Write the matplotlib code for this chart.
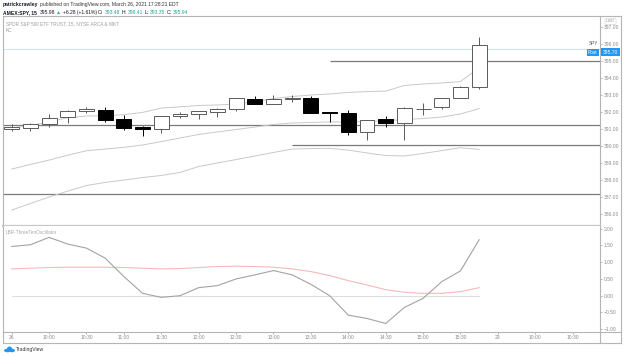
import matplotlib
matplotlib.use('Agg')
import matplotlib.pyplot as plt
from matplotlib.patches import Rectangle, Ellipse
from matplotlib.lines import Line2D

plt.rcParams['font.family'] = ['Liberation Sans', 'DejaVu Sans']

W, H = 624, 357

# 15 min bars of SPY, 26 Mar 2021, 9:30 .. 15:45
opens = [390.98, 391.08, 391.30, 391.69, 392.06, 392.11, 391.57, 391.10, 391.00, 391.75,
         391.87, 392.02, 392.16, 392.77, 392.49, 392.78, 392.81, 392.02, 391.96, 390.84,
         391.57, 391.34, 392.17, 392.28, 392.85, 393.48]
highs = [391.28, 391.37, 391.89, 392.10, 392.32, 392.30, 391.83, 391.20, 391.77, 391.99,
         392.08, 392.26, 392.85, 392.95, 393.01, 393.01, 392.95, 392.02, 392.12, 391.55,
         391.79, 392.28, 392.55, 392.83, 393.56, 396.41]
lows = [390.88, 390.90, 391.10, 391.34, 391.96, 391.43, 390.96, 390.61, 390.75, 391.67,
        391.59, 391.73, 392.06, 392.47, 392.47, 392.60, 391.94, 391.40, 390.65, 390.35,
        391.14, 390.35, 391.83, 392.18, 392.83, 393.35]
closes = [391.10, 391.28, 391.67, 392.08, 392.16, 391.53, 391.06, 391.00, 391.75, 391.89,
          392.05, 392.16, 392.81, 392.49, 392.77, 392.84, 391.96, 391.95, 390.84, 391.53,
          391.34, 392.26, 392.19, 392.81, 393.50, 395.94]

# Keltner channel
kc_upper = [391.06, 391.21, 391.42, 391.67, 391.77, 391.79, 391.85, 391.98, 392.24, 392.31,
            392.39, 392.42, 392.48, 392.62, 392.80, 392.92, 393.01, 393.07, 393.16, 393.21,
            393.24, 393.57, 393.66, 393.72, 393.80, 394.63]
kc_middle = [388.64, 388.91, 389.17, 389.46, 389.72, 389.82, 389.92, 390.06, 390.26, 390.47,
             390.68, 390.83, 390.97, 391.12, 391.27, 391.36, 391.39, 391.42, 391.42, 391.44,
             391.50, 391.56, 391.62, 391.71, 391.89, 392.21]
kc_lower = [386.22, 386.61, 386.99, 387.34, 387.67, 387.85, 387.99, 388.14, 388.26, 388.44,
            388.79, 389.00, 389.20, 389.41, 389.62, 389.82, 389.85, 389.86, 389.76, 389.59,
            389.44, 389.41, 389.56, 389.73, 389.90, 389.80]

# LBR 3/10 oscillator
osc = [1.47, 1.52, 1.74, 1.54, 1.42, 1.12, 0.57, 0.07, -0.05, 0.00,
       0.24, 0.30, 0.50, 0.62, 0.75, 0.62, 0.34, 0.00, -0.58, -0.68,
       -0.83, -0.35, -0.08, 0.42, 0.74, 1.67]
osc_signal = [0.80, 0.82, 0.84, 0.85, 0.85, 0.85, 0.84, 0.82, 0.80, 0.81,
              0.84, 0.87, 0.88, 0.87, 0.85, 0.80, 0.72, 0.60, 0.45, 0.32,
              0.18, 0.10, 0.07, 0.07, 0.12, 0.24]

# drawn levels: price and bar index where the line starts
level_prices = [391.22, 387.18, 395.00, 390.04]
level_starts = [-1, -1, 17, 15]
post_price = 395.70

time_ticks = list(range(0, 31, 2))
time_labels = ['26', '10:00', '10:30', '11:00', '11:30', '12:00', '12:30', '13:00', '13:30',
               '14:00', '14:30', '15:00', '15:30', '29', '10:00', '10:30']
price_ticks = list(range(386, 398))
osc_ticks = [-1.0, -0.5, 0.0, 0.5, 1.0, 1.5, 2.0]


def fx(px):
    return px / W


def fy(py):
    return 1 - py / H


fig = plt.figure(figsize=(W / 100, H / 100), dpi=100)
fig.patch.set_facecolor('white')

ax = fig.add_axes([fx(3), fy(226), fx(597), fy(16) - fy(226)])
ax2 = fig.add_axes([fx(3), fy(331.5), fx(597), fy(226) - fy(331.5)])

xmin, xmax = -0.465, 31.46
n = len(opens)
idx = list(range(n))

# main pane
ax.axhline(post_price, color='#cfe4fa', lw=0.7, zorder=0.5)
for p, s in zip(level_prices, level_starts):
    ax.hlines(p, max(s, xmin), xmax, color='#7a7a7a', lw=0.9, zorder=1)
for band in (kc_upper, kc_middle, kc_lower):
    ax.plot(idx, band, color='#c9c9c9', lw=0.7, zorder=1.5)

for i in idx:
    o, h, l, c = opens[i], highs[i], lows[i], closes[i]
    up = c >= o
    col = '#5a5a5a' if up else '#000000'
    ax.vlines(i, l, h, color=col, lw=0.7, zorder=3)
    ax.add_patch(Rectangle((i - 0.4, min(o, c)), 0.8, max(abs(c - o), 0.02),
                           facecolor='white' if up else 'black', edgecolor=col,
                           lw=0.7, zorder=4))

ax.set_xlim(xmin, xmax)
ax.set_ylim(385.28, 397.67)
ax.set_xticks([])
ax.yaxis.tick_right()
ax.set_yticks(price_ticks)
ax.set_yticklabels([f'{v:.2f}' for v in price_ticks])
ax.tick_params(axis='y', length=1.5, width=0.5, color='#9a9a9a', labelsize=3.6,
               labelcolor='#8c8c8c', pad=1.3)

# lower pane
ax2.plot([0, n - 1], [0, 0], color='#dedede', lw=0.8, zorder=1)
ax2.plot(idx, osc_signal, color='#f7b9b9', lw=0.8, zorder=2)
ax2.plot(idx, osc, color='#a3a3a3', lw=0.8, zorder=3)
ax2.set_xlim(xmin, xmax)
ax2.set_ylim(-1.069, 2.08)
ax2.yaxis.tick_right()
ax2.set_yticks(osc_ticks)
ax2.set_yticklabels([f'{v:.2f}'.replace('-', '\u2212') for v in osc_ticks])
ax2.set_xticks(time_ticks)
ax2.set_xticklabels(time_labels)
ax2.tick_params(axis='y', length=1.5, width=0.5, color='#9a9a9a', labelsize=3.6,
                labelcolor='#8c8c8c', pad=1.3)
ax2.tick_params(axis='x', length=1.3, width=0.5, color='#9a9a9a', labelsize=3.6,
                labelcolor='#8c8c8c', pad=1.0)

for a in (ax, ax2):
    for side in ('left', 'right', 'top', 'bottom'):
        a.spines[side].set_color('#b5b5b5')
        a.spines[side].set_linewidth(0.8)
ax.spines['bottom'].set_color('#c6c6c6')
ax.spines['bottom'].set_linewidth(1.6)
ax2.spines['top'].set_visible(False)

# outer frame around price and time scales
frame = [((600, 16), (621, 16)), ((621, 16), (621, 343)), ((3, 343), (621, 343)),
         ((3, 331.5), (3, 343)), ((600, 331.5), (600, 343)), ((600, 331.5), (621, 331.5))]
for (x0, y0), (x1, y1) in frame:
    fig.add_artist(Line2D([fx(x0), fx(x1)], [fy(y0), fy(y1)], color='#b5b5b5', lw=0.8))

# price scale badges
fig.text(fx(610.5), fy(21.5), 'USD', fontsize=3.0, color='#9a9a9a', ha='center', va='center',
         bbox=dict(boxstyle='round,pad=0.25', fc='white', ec='#cfcfcf', lw=0.4))
fig.text(fx(598), fy(43.5), 'SPY', fontsize=3.4, color='#555555', ha='right', va='center')
fig.text(fx(597.5), fy(52.3), 'Post', fontsize=3.4, color='white', ha='right', va='center',
         bbox=dict(boxstyle='square,pad=0.25', fc='#2196f3', ec='none'))
fig.text(fx(610.5), fy(52.3), f'{post_price:.2f}', fontsize=3.6, color='white', ha='center',
         va='center', bbox=dict(boxstyle='square,pad=0.3', fc='#2196f3', ec='none'))


def chain(parts, x, y, size):
    # parts: (text, colour, weight, gap in points before the text)
    t = fig.text(fx(x), fy(y), parts[0][0], color=parts[0][1], weight=parts[0][2],
                 fontsize=size, va='bottom')
    for s, col, wt, gap in parts[1:]:
        t = ax.annotate(s, xy=(1, 0), xycoords=t, xytext=(gap, 0), textcoords='offset points',
                        va='bottom', ha='left', color=col, weight=wt, fontsize=size,
                        annotation_clip=False)
    return t


dark = '#131722'
teal = '#26a69a'
sp = 1.0
chain([('patrickcrawley', dark, 'bold'),
       ('published on TradingView.com, March 26, 2021 17:28:21 EDT', '#333333', 'normal', sp)],
      3, 7.2, 3.6)
chain([('AMEX:SPY, 15', dark, 'bold'), ('395.98', dark, 'normal', 2 * sp),
       ('\u25b2', teal, 'normal', sp), ('+6.28 (+1.61%)', dark, 'normal', sp),
       ('O:', dark, 'normal', sp), ('393.48', teal, 'normal', sp),
       ('H:', dark, 'normal', sp), ('396.41', teal, 'normal', sp),
       ('L:', dark, 'normal', sp), ('393.35', teal, 'normal', sp),
       ('C:', dark, 'normal', sp), ('395.94', teal, 'normal', sp)],
      3, 14.8, 3.6)

fig.text(fx(6), fy(23.7), 'SPDR S&P 500 ETF TRUST, 15, NYSE ARCA & MKT', fontsize=3.4,
         color='#9e9e9e', va='center')
fig.text(fx(6), fy(30.5), 'KC', fontsize=3.4, color='#9e9e9e', va='center')
fig.text(fx(6), fy(232.3), 'LBR-ThreeTenOscillator', fontsize=3.4, color='#a8a8a8', va='center')

# TradingView logo: small blue cloud
for cx, cy, w, h in [(7.5, 350.5, 7, 3.5), (9.5, 348.6, 5, 4), (12, 350.5, 6, 3.5)]:
    fig.add_artist(Ellipse((fx(cx), fy(cy)), fx(w), h / H, facecolor='#2196f3',
                           edgecolor='none'))
fig.text(fx(16), fy(349.8), 'TradingView', fontsize=3.6, color='#333333', va='center')

fig.savefig('out.png', dpi=100, facecolor='white')
